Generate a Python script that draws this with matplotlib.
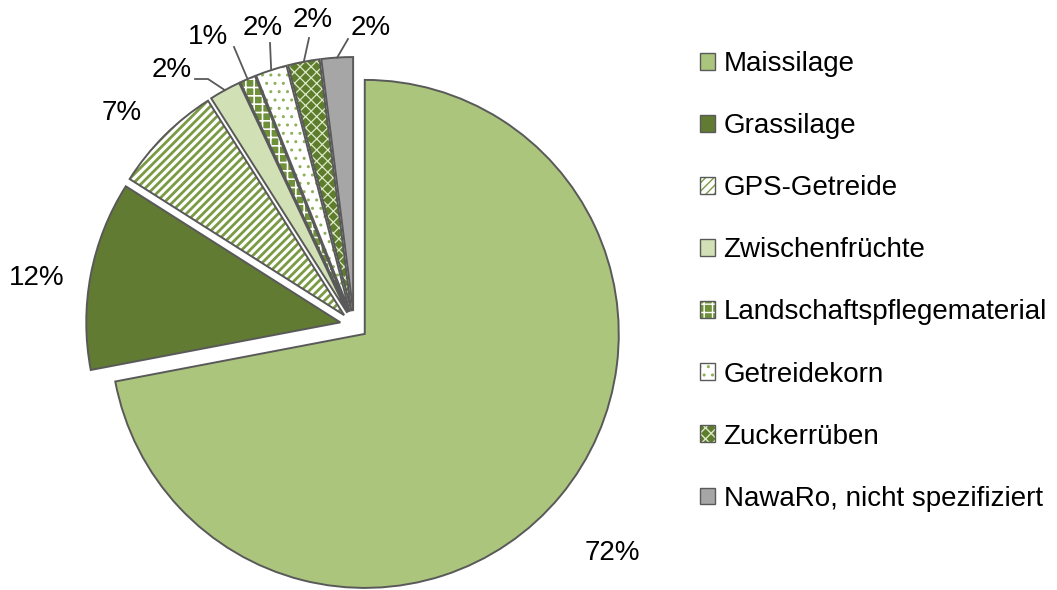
import matplotlib
matplotlib.use("Agg")
import matplotlib.pyplot as plt
from matplotlib.patches import Wedge, Patch
from matplotlib.legend_handler import HandlerTuple
import numpy as np

# ---- data ----
categories = ["Maissilage", "Grassilage", "GPS-Getreide", "Zwischenfrüchte",
              "Landschaftspflegematerial", "Getreidekorn", "Zuckerrüben",
              "NawaRo, nicht spezifiziert"]
shares = [72, 12, 7, 2, 1, 2, 2, 2]
pct_labels = ["72%", "12%", "7%", "2%", "1%", "2%", "2%", "2%"]

# ---- styles ----
face_colors = ["#ABC57D", "#627B33", "#FFFFFF", "#D2E1B5",
               "#6E9038", "#FFFFFF", "#5E7D2C", "#A6A6A6"]
hatches = [None, None, "////", None, "++", "..", "xxx", None]
hatch_colors = [None, None, "#7A9A43", None, "#FFFFFF", "#8DB05A", "#DCE8C8", None]
hatch_lws = [None, None, 2.0, None, 1.2, 1.0, 0.9, None]
edge_color = "#595959"

W, H = 1057, 590
CX, CY, RPX = 354, 325, 254   # pie center and radius in pixels

plt.rcParams['font.family'] = ['Liberation Sans', 'DejaVu Sans']
FS = 20

fig = plt.figure(figsize=(W / 100, H / 100), dpi=100)
ax = fig.add_axes([0, 0, 1, 1])

def px(x, y):
    return ((x - CX) / RPX, (CY - y) / RPX)

def hatched(cls, *args, lw_h=1.0, **kw):
    with plt.rc_context({'hatch.linewidth': lw_h}):
        p = cls(*args, **kw)
    if hasattr(p, "set_hatch_linewidth"):
        p.set_hatch_linewidth(lw_h)
    return p

explode = [0.055] * len(shares)
wedges, _ = ax.pie(shares, startangle=90, counterclock=False, explode=explode,
                   colors=face_colors, radius=1,
                   wedgeprops=dict(edgecolor="none", linewidth=0))
for w, h, hc, hl in zip(wedges, hatches, hatch_colors, hatch_lws):
    w.set_zorder(1)
    if h is not None:
        ov = hatched(Wedge, w.center, w.r, w.theta1, w.theta2, lw_h=hl,
                     facecolor="none", edgecolor=hc, linewidth=0, hatch=h, zorder=2)
        ax.add_patch(ov)
    ed = Wedge(w.center, w.r, w.theta1, w.theta2, facecolor="none",
               edgecolor=edge_color, linewidth=1.4, zorder=3)
    ax.add_patch(ed)

# ---- percentage labels ----
label_pos_px = [(612, 553), (37, 278), (122, 113), (172, 70),
                (208, 37), (263, 28), (313, 20), (371, 28)]
# leader line knee points (pixels) for small slices
knees_px = {3: [(195, 79), (208, 79)], 4: [(234, 47)], 5: [(270, 43)],
            6: [(309, 38)], 7: [(348, 39)]}

for i, (w, lab) in enumerate(zip(wedges, pct_labels)):
    tx, ty = px(*label_pos_px[i])
    ax.text(tx, ty, lab, ha="center", va="center", fontsize=FS, color="black")
    if i in knees_px:
        mid = np.deg2rad((w.theta1 + w.theta2) / 2)
        ex = w.center[0] + w.r * np.cos(mid)
        ey = w.center[1] + w.r * np.sin(mid)
        pts = [px(*k) for k in knees_px[i]] + [(ex, ey)]
        xs, ys = zip(*pts)
        ax.plot(xs, ys, color=edge_color, linewidth=1.3, zorder=4)

# ---- legend ----
handles = []
for fc, h, hc, hl in zip(face_colors, hatches, hatch_colors, hatch_lws):
    parts = [Patch(facecolor=fc, edgecolor="none", linewidth=0)]
    if h is not None:
        parts.append(hatched(Patch, lw_h=hl, facecolor="none", edgecolor=hc,
                             hatch=h, linewidth=0))
    parts.append(Patch(facecolor="none", edgecolor=edge_color, linewidth=1.0))
    handles.append(tuple(parts))

leg = ax.legend(handles, categories, handler_map={tuple: HandlerTuple(ndivide=1, pad=0)},
                loc="upper left", bbox_to_anchor=(700 / W, 1 - 51 / H),
                bbox_transform=fig.transFigure, frameon=False, fontsize=FS,
                handlelength=0.55, handleheight=0.55, handletextpad=0.3,
                labelspacing=1.3, borderpad=0, borderaxespad=0)

ax.set_xlim(-CX / RPX, (W - CX) / RPX)
ax.set_ylim(-(H - CY) / RPX, CY / RPX)
ax.set_aspect("auto")
ax.axis("off")

fig.savefig("out.png", dpi=100)
